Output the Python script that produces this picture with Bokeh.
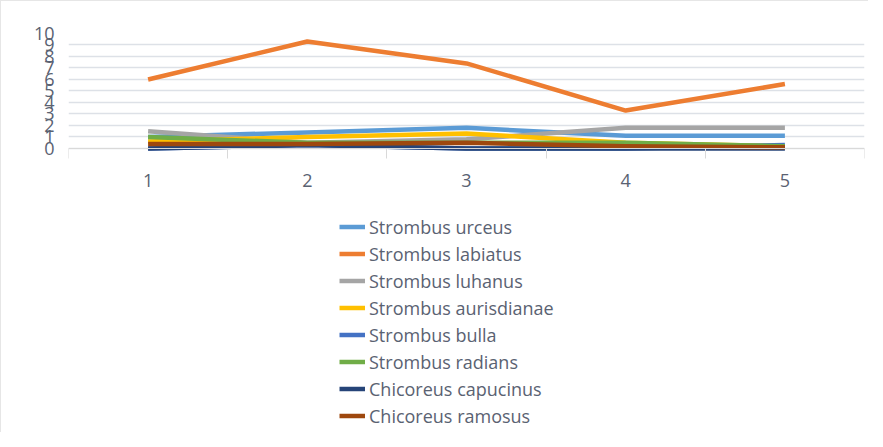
from bokeh.plotting import figure
from bokeh.models import Legend, LegendItem, FixedTicker, Range1d
from bokeh.embed import file_html
from bokeh.resources import INLINE

categories = [1, 2, 3, 4, 5]
cat_labels = ["1", "2", "3", "4", "5"]
series_names = ["Strombus urceus", "Strombus labiatus", "Strombus luhanus",
                "Strombus aurisdianae", "Strombus bulla", "Strombus radians",
                "Chicoreus capucinus", "Chicoreus ramosus"]
urceus = [1.0, 1.4, 1.8, 1.1, 1.1]
labiatus = [6.0, 9.3, 7.4, 3.3, 5.6]
luhanus = [1.5, 0.5, 0.8, 1.8, 1.8]
aurisdianae = [0.6, 1.0, 1.3, 0.5, 0.2]
bulla = [0.0, 0.3, 0.0, 0.0, 0.3]
radians = [1.0, 0.5, 0.5, 0.5, 0.2]
capucinus = [0.0, 0.3, 0.0, 0.0, 0.0]
ramosus = [0.4, 0.4, 0.5, 0.2, 0.1]
series_values = [urceus, labiatus, luhanus, aurisdianae, bulla, radians, capucinus, ramosus]
colors = ["#5B9BD5", "#ED7D31", "#A5A5A5", "#FFC000", "#4472C4", "#70AD47", "#264478", "#9E480E"]
y_ticks = list(range(0, 11))

text_color = "#5a6272"
grid_color = "#dde1e7"

# The frame extends below zero so the legend area sits inside it; the value axis
# still shows 0..10 only and the category axis is pinned at y = 0.
p = figure(frame_width=796, frame_height=399, output_backend="svg", toolbar_location=None,
           x_range=Range1d(0.5, 5.5), y_range=Range1d(-24.7, 10),
           min_border_left=67, min_border_right=4, min_border_top=32, min_border_bottom=0)
p.outline_line_color = None
p.background_fill_color = "white"
p.border_fill_color = "white"
p.styles = {"border-top": "1px solid #e6e6e6", "border-left": "1px solid #e6e6e6"}

items = []
for name, vals, col in zip(series_names, series_values, colors):
    r = p.line(categories, vals, line_color=col, line_width=4.5, line_join="round", line_cap="butt")
    items.append(LegendItem(label=name, renderers=[r]))

# x axis (pinned at y = 0)
p.xaxis.fixed_location = 0
p.xaxis.ticker = FixedTicker(ticks=categories, minor_ticks=[0.5, 1.5, 2.5, 3.5, 4.5, 5.5])
p.xaxis.major_label_overrides = {c: l for c, l in zip(categories, cat_labels)}
p.xaxis.major_tick_line_color = None
p.xaxis.major_tick_out = 0
p.xaxis.major_tick_in = 0
p.xaxis.minor_tick_out = 10
p.xaxis.minor_tick_in = 0
p.xaxis.minor_tick_line_color = "#d9d9d9"
p.xaxis.axis_line_color = "#d9d9d9"
p.xaxis.major_label_text_font = "Open Sans"
p.xaxis.major_label_text_font_size = "18px"
p.xaxis.major_label_text_color = text_color
p.xaxis.major_label_standoff = 16
p.xgrid.grid_line_color = None

# y axis
p.yaxis.ticker = FixedTicker(ticks=y_ticks)
p.yaxis.axis_line_color = None
p.yaxis.major_tick_line_color = None
p.yaxis.minor_tick_line_color = None
p.yaxis.major_tick_out = 0
p.yaxis.major_label_standoff = 14
p.yaxis.major_label_text_font = "Open Sans"
p.yaxis.major_label_text_font_size = "18px"
p.yaxis.major_label_text_color = text_color
p.ygrid.grid_line_color = grid_color
p.ygrid.grid_line_width = 1.5

legend = Legend(items=items, location=(271, 3), orientation="vertical",
                label_text_font="Open Sans", label_text_font_size="18px",
                label_text_color=text_color, glyph_width=26, glyph_height=27,
                label_height=27, spacing=0, label_standoff=4,
                padding=0, margin=0,
                border_line_color=None, background_fill_alpha=0)
p.add_layout(legend, "center")

open("out.html", "w").write(file_html(p, INLINE))
